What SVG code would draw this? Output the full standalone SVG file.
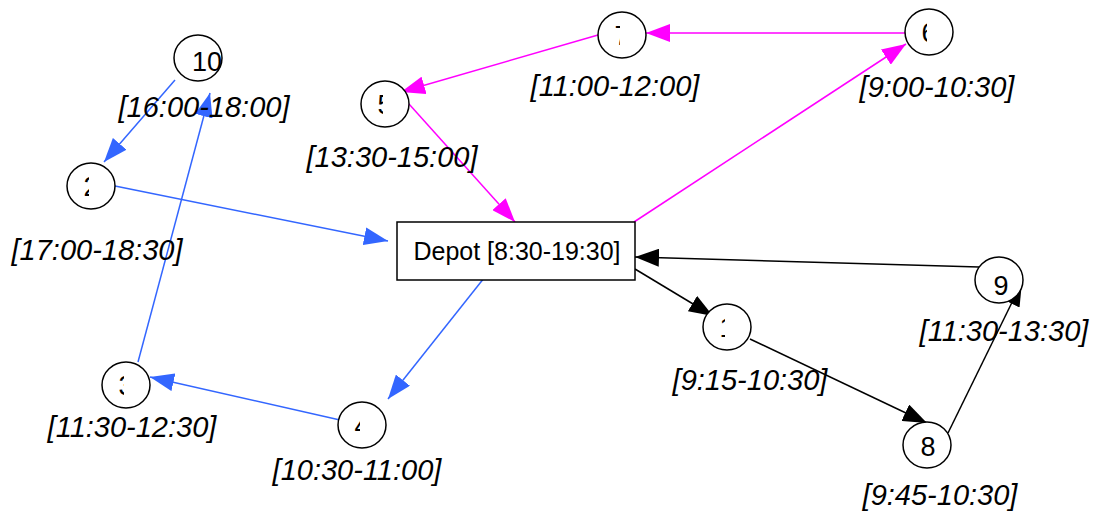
<svg xmlns="http://www.w3.org/2000/svg" width="1095" height="515" viewBox="0 0 1095 515">
  <style>
    .node { fill: #ffffff; stroke: #000000; stroke-width: 1.5; }
    .num { font-family: "Liberation Sans", Arial, sans-serif; font-size: 27px; fill: #000000; text-anchor: middle; }
    .tw { font-family: "Liberation Sans", Arial, sans-serif; font-size: 29px; font-style: italic; fill: #000000; text-anchor: middle; }
    .depot { font-family: "Liberation Sans", Arial, sans-serif; font-size: 25px; fill: #000000; text-anchor: middle; }
    .blue { stroke: #3366ff; stroke-width: 1.5; fill: none; marker-end: url(#ahBlue); }
    .mag { stroke: #ff00ff; stroke-width: 1.5; fill: none; marker-end: url(#ahMag); }
    .blk { stroke: #000000; stroke-width: 1.5; fill: none; marker-end: url(#ahBlk); }
  </style>
  <defs>
    <marker id="ahBlue" viewBox="0 0 24 18" refX="24" refY="9" markerWidth="24" markerHeight="18" markerUnits="userSpaceOnUse" orient="auto">
      <path d="M0,0 L24,9 L0,18 Z" fill="#3366ff"/>
    </marker>
    <marker id="ahMag" viewBox="0 0 24 18" refX="24" refY="9" markerWidth="24" markerHeight="18" markerUnits="userSpaceOnUse" orient="auto">
      <path d="M0,0 L24,9 L0,18 Z" fill="#ff00ff"/>
    </marker>
    <marker id="ahBlk" viewBox="0 0 24 18" refX="24" refY="9" markerWidth="24" markerHeight="18" markerUnits="userSpaceOnUse" orient="auto">
      <path d="M0,0 L24,9 L0,18 Z" fill="#000000"/>
    </marker>
    <!-- number labels that only show their left part -->
    <clipPath id="c1" clipPathUnits="userSpaceOnUse"><rect x="705" y="305" width="20" height="45"/></clipPath>
    <clipPath id="c2" clipPathUnits="userSpaceOnUse"><rect x="69" y="164" width="20" height="45"/></clipPath>
    <clipPath id="c3" clipPathUnits="userSpaceOnUse"><rect x="104" y="363" width="20" height="45"/></clipPath>
    <clipPath id="c4" clipPathUnits="userSpaceOnUse"><rect x="340" y="403" width="20" height="45"/></clipPath>
    <clipPath id="c5" clipPathUnits="userSpaceOnUse"><rect x="363" y="82" width="20" height="45"/></clipPath>
    <clipPath id="c6" clipPathUnits="userSpaceOnUse"><rect x="907" y="10" width="20" height="45"/></clipPath>
    <clipPath id="c7" clipPathUnits="userSpaceOnUse"><rect x="600" y="13" width="20" height="45"/></clipPath>
  </defs>

  <g id="connectors">
    <!-- blue route -->
    <line class="blue" x1="175" y1="80" x2="104" y2="162"/>
    <line class="blue" x1="115" y1="186" x2="388" y2="241"/>
    <line class="blue" x1="492" y1="268" x2="388" y2="399"/>
    <line class="blue" x1="340" y1="420" x2="150" y2="377"/>
    <line class="blue" x1="138" y1="362" x2="210" y2="93"/>
    <!-- magenta route -->
    <line class="mag" x1="907" y1="33" x2="646" y2="33"/>
    <line class="mag" x1="598" y1="35" x2="401" y2="92"/>
    <line class="mag" x1="409" y1="104" x2="515" y2="222"/>
    <line class="mag" x1="634" y1="222" x2="906" y2="44"/>
    <!-- black route -->
    <line class="blk" x1="635" y1="269" x2="713" y2="316"/>
    <line class="blk" x1="750" y1="339" x2="927" y2="423"/>
    <line class="blk" x1="948" y1="433" x2="1022" y2="282"/>
    <line class="blk" x1="979" y1="267" x2="635" y2="257"/>
  </g>

  <g id="depot">
    <rect x="397" y="222" width="238" height="58" fill="#ffffff" stroke="#000000" stroke-width="1.5"/>
    <text class="depot" x="517" y="260">Depot [8:30-19:30]</text>
  </g>

  <g id="node1">
    <ellipse class="node" cx="727" cy="327" rx="24" ry="23"/>
    <text class="num" x="727" y="337" clip-path="url(#c1)">1</text>
    <text class="tw" x="750" y="390">[9:15-10:30]</text>
  </g>
  <g id="node2">
    <ellipse class="node" cx="91" cy="186" rx="24" ry="23"/>
    <text class="num" x="91" y="196" clip-path="url(#c2)">2</text>
    <text class="tw" x="97" y="260">[17:00-18:30]</text>
  </g>
  <g id="node3">
    <ellipse class="node" cx="126" cy="385" rx="24" ry="23"/>
    <text class="num" x="126" y="395" clip-path="url(#c3)">3</text>
    <text class="tw" x="132" y="437">[11:30-12:30]</text>
  </g>
  <g id="node4">
    <ellipse class="node" cx="362" cy="425" rx="24" ry="23"/>
    <text class="num" x="362" y="435" clip-path="url(#c4)">4</text>
    <text class="tw" x="357" y="480">[10:30-11:00]</text>
  </g>
  <g id="node5">
    <ellipse class="node" cx="385" cy="104" rx="24" ry="23"/>
    <text class="num" x="385" y="114" clip-path="url(#c5)">5</text>
    <text class="tw" x="392" y="167">[13:30-15:00]</text>
  </g>
  <g id="node6">
    <ellipse class="node" cx="929" cy="32" rx="24" ry="23"/>
    <text class="num" x="929" y="42" clip-path="url(#c6)">6</text>
    <text class="tw" x="937" y="97">[9:00-10:30]</text>
  </g>
  <g id="node7">
    <ellipse class="node" cx="622" cy="35" rx="24" ry="23"/>
    <text class="num" x="622" y="45" clip-path="url(#c7)">7</text>
    <text class="tw" x="615" y="96">[11:00-12:00]</text>
  </g>
  <g id="node8">
    <ellipse class="node" cx="927" cy="445" rx="24" ry="23"/>
    <text class="num" x="928" y="456">8</text>
    <text class="tw" x="940" y="505">[9:45-10:30]</text>
  </g>
  <g id="node9">
    <ellipse class="node" cx="999" cy="280" rx="24" ry="23"/>
    <text class="num" x="1001" y="295">9</text>
    <text class="tw" x="1004" y="341">[11:30-13:30]</text>
  </g>
  <g id="node10">
    <ellipse class="node" cx="198" cy="58" rx="24" ry="23"/>
    <text class="num" x="207" y="71">10</text>
    <text class="tw" x="204" y="117">[16:00-18:00]</text>
  </g>
</svg>
